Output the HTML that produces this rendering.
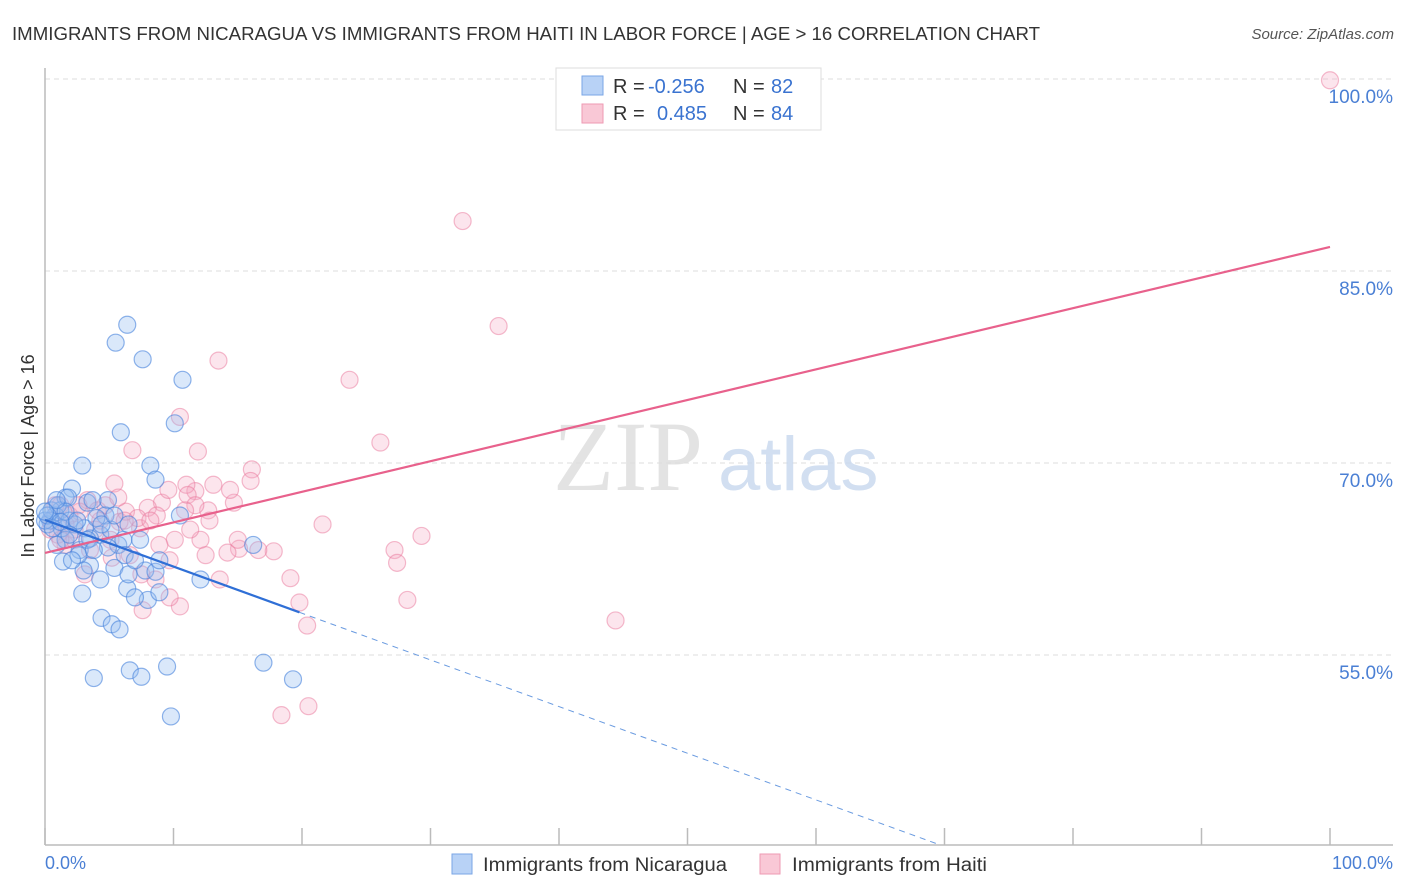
<!DOCTYPE html>
<html><head><meta charset="utf-8"><style>
body{margin:0;background:#fff;font-family:"Liberation Sans",sans-serif;}
svg{display:block}
</style></head><body>
<svg id="chart" width="1406" height="892" xmlns="http://www.w3.org/2000/svg">
<text x="12" y="40" font-size="18" fill="#333" textLength="1028" lengthAdjust="spacingAndGlyphs">IMMIGRANTS FROM NICARAGUA VS IMMIGRANTS FROM HAITI IN LABOR FORCE | AGE &gt; 16 CORRELATION CHART</text>
<text x="1394" y="39" font-size="15" fill="#555" font-style="italic" text-anchor="end">Source: ZipAtlas.com</text>
<g id="grid"></g>
<text x="553" y="490" font-size="100" fill="#ddd" font-family="Liberation Serif,serif" opacity="0.8">ZIP</text>
<text x="718" y="490" font-size="76" fill="#c8d8ee" opacity="0.8">atlas</text>
<line x1="45" y1="68" x2="45" y2="845" stroke="#bbb" stroke-width="1.5"/>
<line x1="45" y1="845" x2="1393" y2="845" stroke="#bbb" stroke-width="1.5"/>
<g id="ticks"></g>
<g id="pinkPts"></g>
<g id="bluePts"></g>
<g id="lines"></g>
<text transform="translate(34,456) rotate(-90)" font-size="18" fill="#333" text-anchor="middle">In Labor Force | Age &gt; 16</text>
<text x="45" y="869" font-size="18" fill="#4a7fd4">0.0%</text>
<text x="1393" y="869" font-size="18" fill="#4a7fd4" text-anchor="end">100.0%</text>
<g>
<rect x="556" y="68" width="265" height="62" fill="#fff" stroke="#ddd"/>
<rect x="582" y="76" width="21" height="19" fill="#b8d2f6" stroke="#7aa6e6"/>
<rect x="582" y="104" width="21" height="19" fill="#f9c8d6" stroke="#ee9ab3"/>
<text x="613" y="93" font-size="20" fill="#333">R = <tspan x="648" fill="#3a73d0">-0.256</tspan><tspan x="733">N = </tspan><tspan x="771" fill="#3a73d0">82</tspan></text>
<text x="613" y="120" font-size="20" fill="#333">R = <tspan x="657" fill="#3a73d0">0.485</tspan><tspan x="733">N = </tspan><tspan x="771" fill="#3a73d0">84</tspan></text>
</g>
<g>
<rect x="452" y="854" width="20" height="20" fill="#b8d2f6" stroke="#7aa6e6"/>
<text x="483" y="871" font-size="19" fill="#333" textLength="244" lengthAdjust="spacingAndGlyphs">Immigrants from Nicaragua</text>
<rect x="760" y="854" width="20" height="20" fill="#f9c8d6" stroke="#ee9ab3"/>
<text x="792" y="871" font-size="19" fill="#333" textLength="195" lengthAdjust="spacingAndGlyphs">Immigrants from Haiti</text>
</g>
</svg>
<script>
const yTicks=[55,70,85,100];
const yTickLabels=["55.0%","70.0%","85.0%","100.0%"];
const xTicks=[0,10,20,30,40,50,60,70,80,90,100];
const blueX=[6.4,5.5,7.6,10.7,5.9,10.1,2.9,8.2,8.6,2.1,1.6,3.3,4.9,10.5,1.2,0.8,0.4,1.9,4.7,0.2,1.3,3.1,4.3,5.7,6.1,16.2,1.6,2.7,6.2,7.8,3.5,5.4,4.3,6.4,8.0,8.9,12.1,2.9,8.6,7.0,4.4,5.2,5.8,17.0,3.8,6.6,7.5,9.5,19.3,9.8,1.4,2.6,0,0.5,1.0,2.3,3.5,4.9,4.0,5.1,6.5,3.0,7.4,8.9,6.5,3.7,1.8,0.9,2.1,3.3,0.2,0.6,1.6,2.5,4.4,1.2,1.9,5.4,7.0,3.8,0.9,0];
const blueY=[80.8,79.4,78.1,76.5,72.4,73.1,69.8,69.8,68.7,68.0,67.3,66.9,67.1,65.9,66.3,65.9,65.5,65.5,65.9,65.2,64.9,64.9,64.4,63.6,64.0,63.6,64.0,63.2,62.8,61.6,62.0,61.8,60.9,60.2,59.3,59.9,60.9,59.8,61.5,59.5,57.9,57.4,57.0,54.4,53.2,53.8,53.3,54.1,53.1,50.2,62.3,62.8,65.5,66.3,66.7,65.2,64.1,63.4,65.7,64.8,61.3,61.6,64.0,62.4,65.2,67.1,67.3,63.6,62.4,64.0,65.9,64.9,66.2,65.5,65.2,65.4,64.4,65.9,62.4,63.2,67.1,66.2];
const pinkX=[100,32.5,35.3,13.5,23.7,26.1,10.5,6.8,11.9,16.1,16.0,13.1,11.7,11.0,11.1,5.4,14.7,9.1,8.0,12.7,8.7,21.6,29.3,27.2,27.4,28.2,44.4,19.8,20.4,19.1,17.8,16.6,15.1,14.2,12.5,12.1,10.1,9.7,10.5,7.6,9.7,18.4,20.5,3.3,1.2,1.9,4.3,5.8,6.3,7.4,2.3,0.5,1.6,3.5,5.1,6.6,8.9,8.6,3.1,1.0,4.1,1.6,4.7,5.7,7.2,11.3,12.8,13.6,15.0,7.5,11.7,14.4,2.7,0.4,2.3,5.2,6.2,2.6,3.9,0.8,1.2,8.2,9.6,10.9];
const pinkY=[99.9,88.9,80.7,78.0,76.5,71.6,73.6,71.0,70.9,69.5,68.6,68.3,67.8,68.3,67.5,68.4,66.9,66.9,66.5,66.3,65.9,65.2,64.3,63.2,62.2,59.3,57.7,59.1,57.3,61.0,63.1,63.2,63.3,63.0,62.8,64.0,64.0,62.4,58.8,58.5,59.5,50.3,51.0,67.1,66.7,65.9,65.5,65.4,66.2,64.9,64.8,65.5,63.6,63.2,64.0,62.8,63.6,60.9,61.3,64.4,66.3,65.2,66.7,67.3,65.7,64.8,65.5,60.9,64.0,61.3,66.7,67.9,66.2,64.8,64.0,62.6,65.5,66.7,64.8,66.7,64.0,65.5,67.9,66.3];
const pinkTrend=[62.97,86.88];
const blueTrend=[65.55,-0.3645];
const blueSolidEnd=19.8, blueDashEnd=69.65;

const NS="http://www.w3.org/2000/svg";
const X0=45,X1=1330,Y100=79,PXPER=12.8;
function sx(v){return X0+(X1-X0)*v/100;}
function sy(v){return Y100+(100-v)*PXPER;}
function mk(tag,attrs,parent){const e=document.createElementNS(NS,tag);for(const k in attrs)e.setAttribute(k,attrs[k]);parent.appendChild(e);return e;}
const grid=document.getElementById('grid');
yTicks.forEach((t,i)=>{
  const l=mk('line',{x1:45,x2:1393,y1:sy(t),y2:sy(t),stroke:'#ddd','stroke-dasharray':'5,4'},grid);
  
  
  const tx=mk('text',{x:1393,y:sy(t)+24,'font-size':19,fill:'#4a7fd4','text-anchor':'end'},grid);
  tx.textContent=yTickLabels[i];
  
  
});
const ticks=document.getElementById('ticks');
xTicks.forEach(t=>{
  const l=mk('line',{x1:sx(t),x2:sx(t),y1:828,y2:845,stroke:'#bbb','stroke-width':1.5},ticks);
  
  
});
const pp=document.getElementById('pinkPts');
pinkX.forEach((x,i)=>{
  const c=mk('circle',{cx:sx(x),cy:sy(pinkY[i]),r:8.5,fill:'rgba(246,170,195,0.3)',stroke:'rgba(234,120,155,0.5)','stroke-width':1.2},pp);
  
  
});
const bp=document.getElementById('bluePts');
blueX.forEach((x,i)=>{
  const c=mk('circle',{cx:sx(x),cy:sy(blueY[i]),r:8.5,fill:'rgba(150,190,240,0.35)',stroke:'rgba(70,130,220,0.6)','stroke-width':1.2},bp);
  
  
});
const lg=document.getElementById('lines');
const pl=mk('line',{x1:sx(0),y1:sy(pinkTrend[0]),x2:sx(100),y2:sy(pinkTrend[1]),stroke:'#e8618c','stroke-width':2.2},lg);


const bf=v=>blueTrend[0]+blueTrend[1]*v;
const bl=mk('line',{x1:sx(0),y1:sy(bf(0)),x2:sx(blueSolidEnd),y2:sy(bf(blueSolidEnd)),stroke:'#2f6fd6','stroke-width':2.2},lg);


const bd=mk('line',{x1:sx(blueSolidEnd),y1:sy(bf(blueSolidEnd)),x2:sx(blueDashEnd),y2:sy(bf(blueDashEnd)),stroke:'#6a9be0','stroke-width':1,'stroke-dasharray':'6,5'},lg);


</script>
</body></html>
